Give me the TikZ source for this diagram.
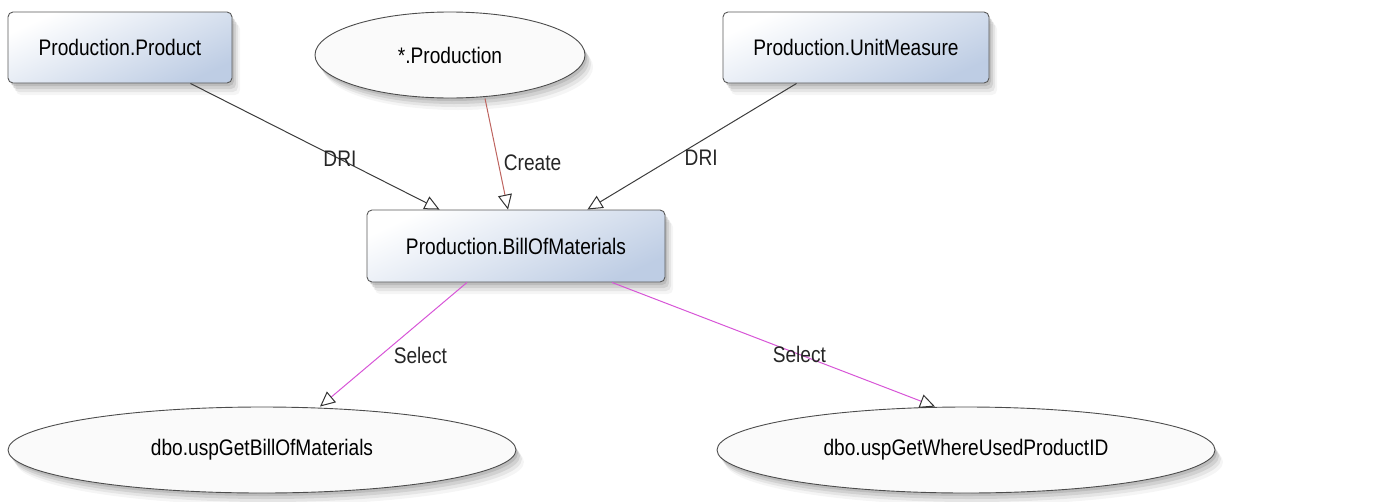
\documentclass[tikz,border=0pt]{standalone}
\usepackage{fontspec}
\setmainfont{Liberation Sans}[FakeStretch=0.85]
\usetikzlibrary{arrows.meta,shadows,shapes.geometric}
\definecolor{boxblue}{RGB}{190,205,228}
\definecolor{edgegray}{RGB}{60,60,60}
\definecolor{createred}{RGB}{190,100,95}
\definecolor{selectmag}{RGB}{215,85,215}
\definecolor{ellfill}{RGB}{250,250,250}
\tikzset{
  softshadow/.style={
    drop shadow={shadow xshift=2pt, shadow yshift=-3pt, opacity=0.22, fill=black!55},
    drop shadow={shadow xshift=4pt, shadow yshift=-6pt, opacity=0.18, fill=black!55},
    drop shadow={shadow xshift=6pt, shadow yshift=-9pt, opacity=0.12, fill=black!55},
    drop shadow={shadow xshift=8pt, shadow yshift=-12pt, opacity=0.07, fill=black!55}},
  tbox/.style={draw=black!65, line width=0.9pt, rounded corners=5pt,
    shading=axis, top color=white, bottom color=boxblue, shading angle=25,
    softshadow, inner sep=0pt, font=\fontsize{22.5}{26}\selectfont},
  tell/.style={ellipse, draw=black!70, line width=0.9pt, fill=ellfill,
    softshadow, inner sep=0pt, font=\fontsize{22.5}{26}\selectfont},
  conn/.style={line width=1pt, -{Triangle[open, length=15pt, width=14pt, line width=1pt, color=black!80]}},
  lbl/.style={font=\fontsize{22.5}{26}\selectfont, inner sep=1pt, text=black!85}
}
\begin{document}
\begin{tikzpicture}[x=1pt,y=-1pt]
\useasboundingbox (0,0) rectangle (1386,501);
\node[tbox, minimum width=224pt, minimum height=71pt] (pp) at (120,47.5) {Production.Product};
\node[tell, minimum width=270pt, minimum height=86pt] (pe) at (450,55) {*.Production};
\node[tbox, minimum width=266pt, minimum height=71pt] (um) at (856,47.5) {Production.UnitMeasure};
\node[tbox, minimum width=298pt, minimum height=72pt] (bom) at (516,246) {Production.BillOfMaterials};
\node[tell, minimum width=508pt, minimum height=86pt] (ge) at (262,450) {dbo.uspGetBillOfMaterials};
\node[tell, minimum width=498pt, minimum height=86pt] (gw) at (966,450) {dbo.uspGetWhereUsedProductID};

\draw[conn, edgegray] ([xshift=-42pt]pp.south east) -- ([xshift=73pt]bom.north west)
  node[lbl, pos=0.6] (l1) {DRI};
\draw[conn, createred] ([xshift=35pt]pe.south) -- ([xshift=-8pt]bom.north)
  node[lbl, pos=0.58, right, xshift=4pt] (l2) {Create};
\draw[conn, edgegray] ([xshift=74pt]um.south west) -- ([xshift=-78pt]bom.north east)
  node[lbl, pos=0.59, right, xshift=10pt] (l3) {DRI};
\draw[conn, selectmag] ([xshift=-49pt]bom.south) -- ([xshift=58pt]ge.north)
  node[lbl, pos=0.59, right, xshift=12pt] (l4) {Select};
\draw[conn, selectmag] ([xshift=96pt]bom.south) -- ([xshift=-31pt]gw.north)
  node[lbl, pos=0.58] (l5) {Select};
\end{tikzpicture}
\end{document}
